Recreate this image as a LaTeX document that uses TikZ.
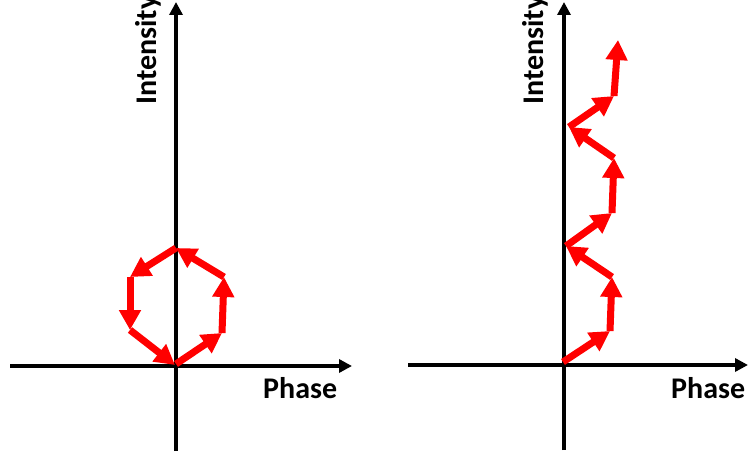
\documentclass[tikz,border=0pt]{standalone}
\usepackage{fontspec}
\setmainfont{Carlito}
\usetikzlibrary{arrows.meta}
\begin{document}
\begin{tikzpicture}[x=1pt,y=-1pt,
  axis/.style={line width=4pt, -{Triangle[width=13pt,length=13pt]}},
  vec/.style={red, line width=7pt, -{Triangle[width=21pt,length=20pt]}},
  lbl/.style={font=\fontsize{30}{30}\selectfont\bfseries, inner sep=0pt}]
\useasboundingbox (0,0) rectangle (749,454);
% left axes
\coordinate (lx0) at (10,366);
\coordinate (lx1) at (352,366);
\coordinate (ly0) at (176,451);
\coordinate (ly1) at (176,2);
\draw[axis] (lx0) -- (lx1);
\draw[axis] (ly0) -- (ly1);
\node[lbl, anchor=base west] (lphase) at (263,398) {Phase};
\node[lbl, rotate=90, anchor=base west] (lint) at (156,105) {Intensity};
% right axes
\coordinate (rx0) at (408,365);
\coordinate (rx1) at (748,365);
\coordinate (ry0) at (564,450);
\coordinate (ry1) at (564,2);
\draw[axis] (rx0) -- (rx1);
\draw[axis] (ry0) -- (ry1);
\node[lbl, anchor=base west] (rphase) at (671,398) {Phase};
\node[lbl, rotate=90, anchor=base west] (rint) at (543,105) {Intensity};
% left closed loop
\coordinate (L0) at (176,364);
\coordinate (L1) at (222,333);
\coordinate (L2) at (224,277);
\coordinate (L3) at (176,248);
\coordinate (L4) at (130,277);
\coordinate (L5) at (130,330);
\coordinate (L6) at (175,365);
\draw[vec] (L0) -- (L1);
\draw[vec] (L1) -- (L2);
\draw[vec] (L2) -- (L3);
\draw[vec] (L3) -- (L4);
\draw[vec] (L4) -- (L5);
\draw[vec] (L5) -- (L6);
% right open chain
\coordinate (R0) at (563,362);
\coordinate (R1) at (610,331);
\coordinate (R2) at (612,277);
\coordinate (R3) at (566,246);
\coordinate (R4) at (612,213);
\coordinate (R5) at (614,158);
\coordinate (R6) at (569,127);
\coordinate (R7) at (614,96);
\coordinate (R8) at (618,40);
\draw[vec] (R0) -- (R1);
\draw[vec] (R1) -- (R2);
\draw[vec] (R2) -- (R3);
\draw[vec] (R3) -- (R4);
\draw[vec] (R4) -- (R5);
\draw[vec] (R5) -- (R6);
\draw[vec] (R6) -- (R7);
\draw[vec] (R7) -- (R8);
\end{tikzpicture}
\end{document}
